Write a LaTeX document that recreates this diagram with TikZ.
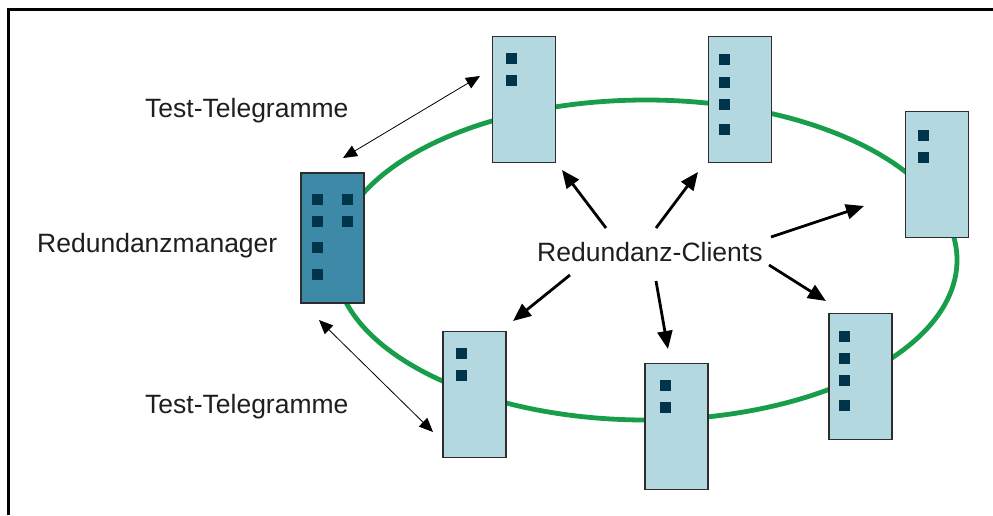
\documentclass[tikz,border=0pt]{standalone}
\usepackage{fontspec}
\setmainfont{Liberation Sans}
\usetikzlibrary{arrows.meta}
\definecolor{ringgreen}{RGB}{24,158,74}
\definecolor{clientfill}{RGB}{180,216,224}
\definecolor{managerfill}{RGB}{60,138,168}
\definecolor{portcol}{RGB}{0,52,74}
\definecolor{boxline}{RGB}{45,45,45}
\definecolor{labeltext}{RGB}{30,30,30}
% small square port indicator, top-left corner given
\newcommand\portsq[2]{\fill[port] (#1,#2) rectangle ++(11,11);}
\begin{document}
\begin{tikzpicture}[x=1pt,y=-1pt,
  client/.style={draw=boxline, line width=1.3pt, fill=clientfill, inner sep=0pt,
                 minimum width=63pt, minimum height=126pt},
  manager/.style={client, fill=managerfill},
  port/.style={fill=portcol},
  lbl/.style={text=labeltext, font=\fontsize{26.5}{30}\selectfont, inner sep=0pt, anchor=base west},
  telearrow/.style={line width=0.8pt, {Triangle[length=14pt,width=12pt]}-{Triangle[length=14pt,width=12pt]}},
  clientarrow/.style={line width=2.8pt, -{Triangle[length=18pt,width=15pt]}}]
\useasboundingbox (0,0) rectangle (993,515);

% frame
\draw[line width=3pt] (8.5,515) -- (8.5,9.5) -- (993,9.5);

% ring
\draw[ringgreen, line width=4.8pt] (646,260) ellipse [x radius=311, y radius=160];

% redundancy manager
\node[manager, minimum width=63pt, minimum height=130pt] (rm) at (332.5,238) {};
\portsq{312}{194}\portsq{342}{194}
\portsq{312}{216}\portsq{342}{216}
\portsq{312}{242}
\portsq{312}{269}

% clients
\node[client] (c1) at (524,99.5) {};
\portsq{506}{53}\portsq{506}{75}

\node[client] (c2) at (740,99.5) {};
\portsq{719}{54}\portsq{719}{77}\portsq{719}{99}\portsq{719}{124}

\node[client] (c3) at (937,174.5) {};
\portsq{918}{130}\portsq{918}{152}

\node[client] (c4) at (860.5,376.5) {};
\portsq{839}{331}\portsq{839}{353}\portsq{839}{375}\portsq{839}{400}

\node[client] (c5) at (676.5,426.5) {};
\portsq{660}{380}\portsq{660}{402}

\node[client] (c6) at (474.5,394.5) {};
\portsq{456}{348}\portsq{456}{370}

% labels
\node[lbl] (tt1) at (145,117) {Test-Telegramme};
\node[lbl] (rml) at (37,252) {Redundanzmanager};
\node[lbl] (rc) at (537,261) {Redundanz-Clients};
\node[lbl] (tt2) at (145,413) {Test-Telegramme};

% test telegram arrows
\coordinate (t1a) at (343,158);
\coordinate (t1b) at (480,76);
\coordinate (t2a) at (319,320);
\coordinate (t2b) at (433,432);
\draw[telearrow] (t1a) -- (t1b);
\draw[telearrow] (t2a) -- (t2b);

% client arrows
\coordinate (s1) at (606,228); \coordinate (e1) at (562,170);
\coordinate (s2) at (656,228); \coordinate (e2) at (698,172);
\coordinate (s3) at (771,237); \coordinate (e3) at (864,206);
\coordinate (s4) at (769,265); \coordinate (e4) at (826,301);
\coordinate (s5) at (656,281); \coordinate (e5) at (668,349);
\coordinate (s6) at (570,275); \coordinate (e6) at (513,321);
\foreach \i in {1,...,6} \draw[clientarrow] (s\i) -- (e\i);
\end{tikzpicture}
\end{document}
